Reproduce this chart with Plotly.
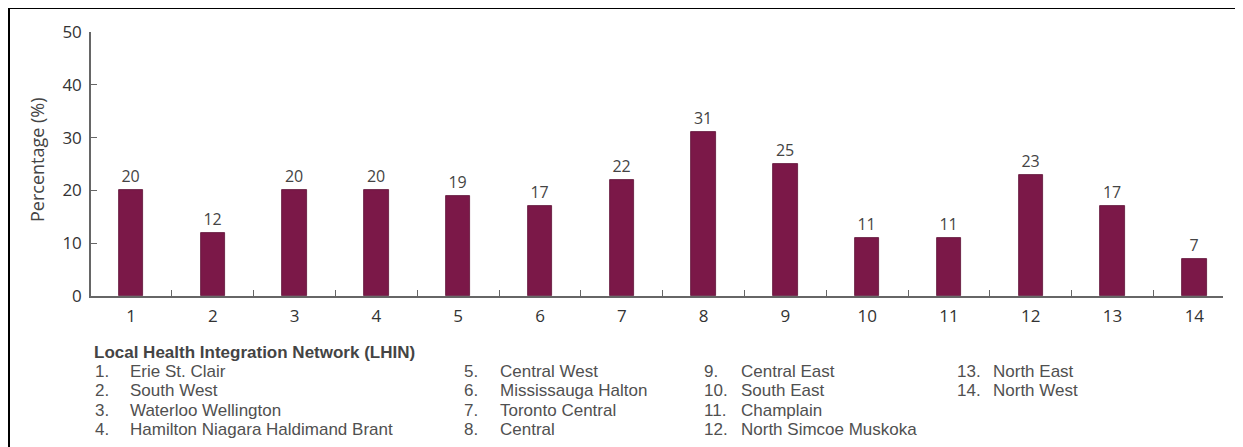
import plotly.graph_objects as go

# ---- data ----
categories = list(range(1, 15))
values = [20, 12, 20, 20, 19, 17, 22, 31, 25, 11, 11, 23, 17, 7]
lhin_names = [
    "Erie St. Clair", "South West", "Waterloo Wellington",
    "Hamilton Niagara Haldimand Brant", "Central West", "Mississauga Halton",
    "Toronto Central", "Central", "Central East", "South East", "Champlain",
    "North Simcoe Muskoka", "North East", "North West",
]
legend_title = "Local Health Integration Network (LHIN)"
y_title = "Percentage (%)"

# ---- layout geometry (screen pixels; page has an 8px body margin) ----
OFF = 8
W, H = 1243 - OFF, 447 - OFF
PL, PR, PT, PB = 91 - OFF, 1223 - OFF, 32 - OFF, 296 - OFF  # plot area in figure px


def px(x):
    return (x - OFF - PL) / (PR - PL)


def py(y):
    return (PB - (y - OFF)) / (PB - PT)


BAR = "#7b1848"
AXIS = "#666666"
TICKFONT = dict(family="Open Sans", size=17, color="#333333")

fig = go.Figure()
fig.add_trace(go.Bar(
    x=categories, y=values, width=0.3,
    marker=dict(color=BAR, line=dict(color="#5e1035", width=0.8)),
    text=[str(v) for v in values], textposition="outside",
    textfont=dict(family="Open Sans", size=16, color="#444444"),
    cliponaxis=False, hoverinfo="skip",
))

annotations = []
# y-axis title
annotations.append(dict(
    x=px(37), y=py(160), xref="paper", yref="paper", text=y_title,
    textangle=-90, showarrow=False, xanchor="center", yanchor="middle",
    font=dict(family="Open Sans", size=18, color="#444444"),
))
# legend block
annotations.append(dict(
    x=px(92), y=py(352), xref="paper", yref="paper",
    text="<b>" + legend_title + "</b>", showarrow=False,
    xanchor="left", yanchor="middle",
    font=dict(family="Liberation Sans", size=17, color="#444444"),
))
num_x = [93, 462, 702, 955]
name_x = [128, 498, 739, 991]
row_y = [371, 390, 410, 429]
for i, name in enumerate(lhin_names):
    col = i // 4
    row = i % 4
    f = dict(family="Liberation Sans", size=17, color="#505050")
    annotations.append(dict(
        x=px(num_x[col]), y=py(row_y[row]), xref="paper", yref="paper",
        text=f"{i + 1}.", showarrow=False, xanchor="left", yanchor="middle", font=f,
    ))
    annotations.append(dict(
        x=px(name_x[col]), y=py(row_y[row]), xref="paper", yref="paper",
        text=name, showarrow=False, xanchor="left", yanchor="middle", font=f,
    ))

# frame lines (top and left edge of the figure)
shapes = [
    dict(type="line", xref="paper", yref="paper", x0=px(8), x1=px(1250),
         y0=py(8), y1=py(8), line=dict(color="black", width=2)),
    dict(type="line", xref="paper", yref="paper", x0=px(9), x1=px(9),
         y0=py(7), y1=py(460), line=dict(color="black", width=2)),
]

fig.update_layout(
    width=W, height=H,
    margin=dict(l=PL, r=W - PR, t=PT, b=H - PB, pad=0),
    paper_bgcolor="white", plot_bgcolor="white",
    showlegend=False, bargap=0,
    annotations=annotations, shapes=shapes,
    font=dict(family="Open Sans"),
)
fig.update_xaxes(
    range=[0.511, 14.35], tickvals=categories, ticktext=[str(c) for c in categories],
    ticks="", showline=True, linecolor=AXIS, linewidth=1.5, showgrid=False,
    zeroline=False, tickfont=TICKFONT, ticklabelstandoff=4,
    minor=dict(tick0=0.5, dtick=1, ticks="inside", ticklen=6, tickcolor=AXIS,
               tickwidth=1.2, showgrid=False),
)
fig.update_yaxes(
    range=[0, 50], tickvals=[0, 10, 20, 30, 40, 50], ticks="inside", ticklen=6,
    tickcolor=AXIS, tickwidth=1.2, showline=True, linecolor=AXIS, linewidth=1.5,
    showgrid=False, zeroline=False, tickfont=TICKFONT, ticklabelstandoff=4,
)

fig.write_html("out.html")
